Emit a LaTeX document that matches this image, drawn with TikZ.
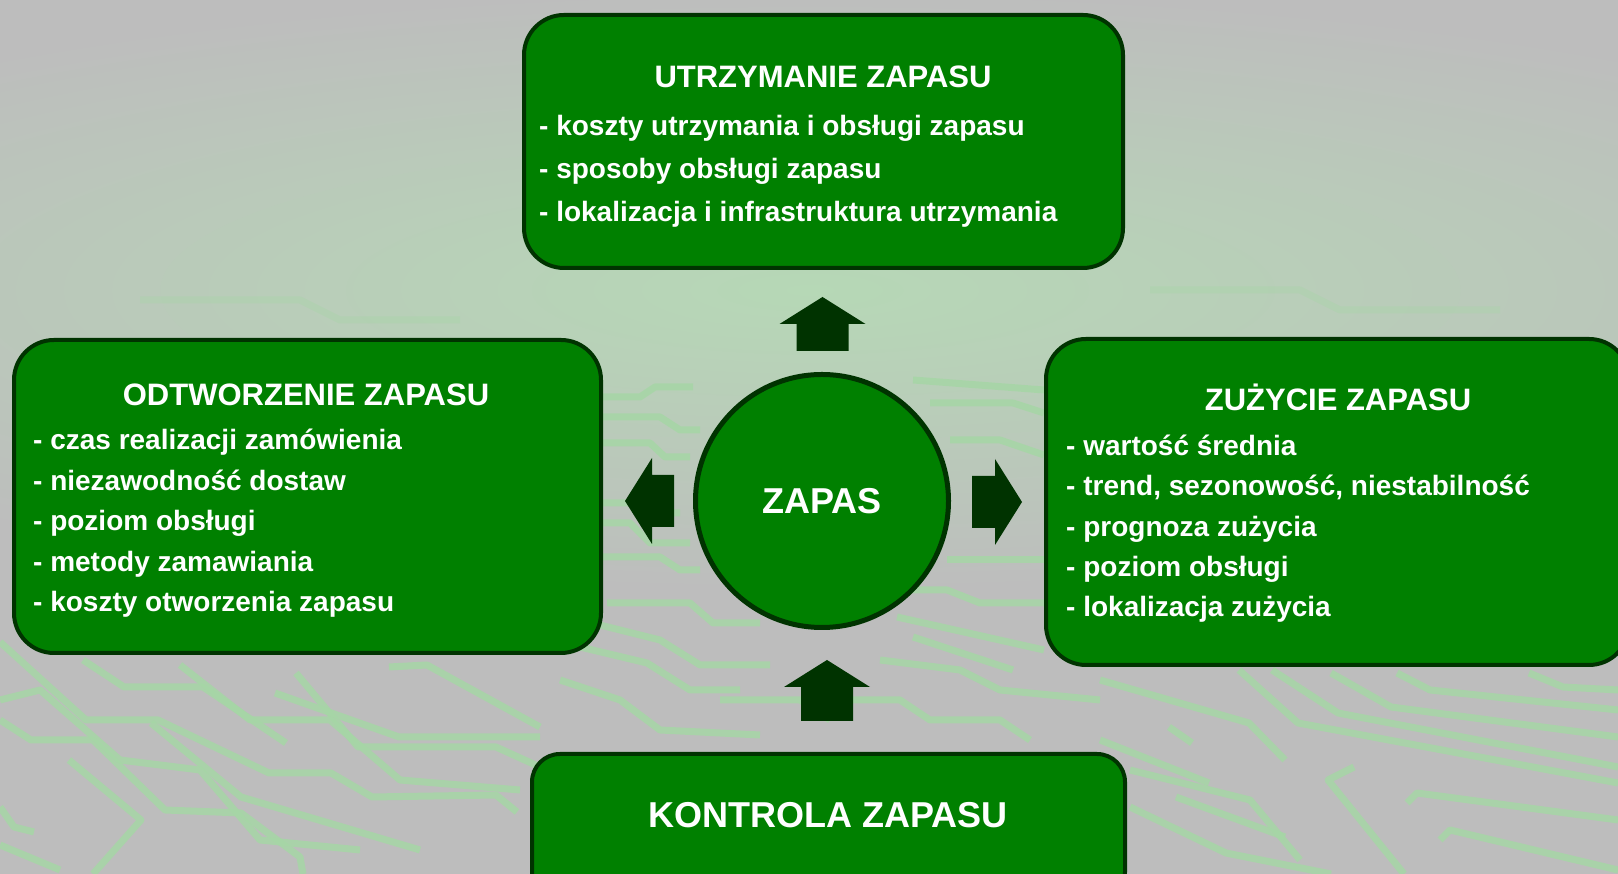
\documentclass[tikz,border=0pt]{standalone}
\usepackage{fontspec}
\setmainfont{Liberation Sans}
\usetikzlibrary{calc}

\definecolor{zielony}{RGB}{0,128,0}
\definecolor{ciemny}{RGB}{0,51,0}
\definecolor{tlo}{RGB}{189,189,189}
\definecolor{poswiata}{RGB}{182,216,182}
\definecolor{sciezka}{RGB}{166,214,166}

\begin{document}
\begin{tikzpicture}[
	x=1pt, y=1pt,
	pole/.style = {shape=rectangle, draw=ciemny, line width=4pt,
		fill=zielony, rounded corners=40pt},
	kolo/.style = {shape=circle, draw=ciemny, line width=5pt, fill=zielony,
		text=white, font=\fontsize{36}{43}\selectfont\bfseries},
	tytul/.style = {text=white, inner sep=0pt, anchor=base,
		font=\fontsize{31}{37}\selectfont\bfseries},
	punkt/.style = {text=white, inner sep=0pt, anchor=base west,
		font=\fontsize{28}{34}\selectfont\bfseries},
	trasa/.style = {draw=sciezka, line width=7pt, line join=round, opacity=0.85},
	pics/blok/.style = {code={
		\fill[ciemny] (0,-26) -- (#1-27,-26) -- (#1-27,-43) -- (#1,0)
			-- (#1-27,43) -- (#1-27,26) -- (0,26) -- cycle;}}]

	\useasboundingbox (0,0) rectangle (1618,874);
	\fill[tlo] (0,0) rectangle (1618,874);

	% tlo: poswiata i sciezki plytki
	\begin{scope}
		\clip (0,0) rectangle (1618,874);
		\shade[inner color=poswiata, outer color=tlo] (810,584) ellipse (1300 and 300);
		\begin{scope}[yshift=874pt, yscale=-1]
			\draw[trasa] (0,642) -- (86,720) -- (158,720) -- (269,773) -- (331,773) -- (372,797) -- (496,795) -- (517,812);
			\draw[trasa] (83,660) -- (124,687) -- (203,687) -- (286,743);
			\draw[trasa] (0,720) -- (31,740) -- (93,740) -- (165,810) -- (241,813) -- (300,857) -- (303,874);
			\draw[trasa] (296,673) -- (358,747) -- (496,747) -- (540,767);
			\draw[trasa] (275,693) -- (399,737) -- (540,737);
			\draw[trasa] (69,760) -- (141,820) -- (93,874);
			\draw[trasa] (389,667) -- (427,665) -- (540,727);
			\draw[trasa] (151,723) -- (241,797) -- (420,850);
			\draw[trasa] (0,807) -- (14,827) -- (34,832);
			\draw[trasa] (0,700) -- (40,690) -- (120,760) -- (200,770) -- (260,840) -- (360,850);
			\draw[trasa] (180,665) -- (250,720) -- (330,720) -- (400,780) -- (520,790);
			\draw[trasa] (0,845) -- (60,870);
			\draw[trasa] (1100,680) -- (1249,723) -- (1285,760);
			\draw[trasa] (1239,670) -- (1298,723) -- (1618,783);
			\draw[trasa] (1272,670) -- (1338,713) -- (1618,767);
			\draw[trasa] (1331,673) -- (1391,707) -- (1618,737);
			\draw[trasa] (1397,673) -- (1430,690) -- (1618,710);
			\draw[trasa] (1529,673) -- (1563,687) -- (1618,690);
			\draw[trasa] (1354,767) -- (1328,780) -- (1404,874);
			\draw[trasa] (1407,803) -- (1417,793) -- (1618,820);
			\draw[trasa] (1440,840) -- (1450,830) -- (1618,870);
			\draw[trasa] (1176,797) -- (1285,837);
			\draw[trasa] (1130,807) -- (1226,853) -- (1331,874);
			\draw[trasa] (1100,740) -- (1209,783);
			\draw[trasa] (1169,727) -- (1192,743);
			\draw[trasa] (1130,770) -- (1250,800) -- (1300,860);
			\draw[trasa] (603,397) -- (640,397) -- (655,387) -- (693,387);
			\draw[trasa] (603,417) -- (660,417) -- (680,430) -- (700,430);
			\draw[trasa] (603,443) -- (650,443) -- (665,457) -- (690,457);
			\draw[trasa] (603,503) -- (640,503) -- (655,513) -- (680,513);
			\draw[trasa] (603,523) -- (630,523) -- (650,543) -- (690,543);
			\draw[trasa] (603,557) -- (660,557) -- (680,570) -- (700,570);
			\draw[trasa] (607,603) -- (690,603) -- (713,623) -- (760,623);
			\draw[trasa] (600,625) -- (660,640) -- (700,665) -- (770,665);
			\draw[trasa] (580,647) -- (647,663) -- (690,690) -- (740,690);
			\draw[trasa] (560,680) -- (620,700) -- (660,730) -- (760,735);
			\draw[trasa] (720,700) -- (800,700) -- (830,720);
			\draw[trasa] (850,700) -- (900,700) -- (930,720) -- (1000,720) -- (1030,740);
			\draw[trasa] (880,660) -- (960,670) -- (1000,690) -- (1100,700);
			\draw[trasa] (880,590) -- (947,590) -- (980,603) -- (1044,603);
			\draw[trasa] (897,617) -- (1044,650);
			\draw[trasa] (913,637) -- (1013,670);
			\draw[trasa] (947,560) -- (1044,560);
			\draw[trasa] (930,403) -- (1013,403) -- (1044,413);
			\draw[trasa] (913,380) -- (1044,390);
			\draw[trasa] (950,440) -- (1000,440) -- (1044,455);
			\draw[trasa, opacity=0.35] (140,300) -- (300,300) -- (340,320) -- (460,320);
			\draw[trasa, opacity=0.35] (1150,290) -- (1300,290) -- (1340,310) -- (1500,310);
		\end{scope}
	\end{scope}

	% pola
	\node[pole, minimum width=599pt, minimum height=253pt] (utrzymanie) at (823.5,732.5) {};
	\node[pole, minimum width=587pt, minimum height=313pt] (odtworzenie) at (307.5,377.5) {};
	\node[pole, minimum width=583pt, minimum height=326pt] (zuzycie) at (1337.5,372) {};
	\node[pole, rounded corners=28pt, minimum width=593pt, minimum height=146pt] (kontrola) at (828.5,47) {};
	\node[kolo, minimum size=253pt, inner sep=0pt] (zapas) at (822,373) {ZAPAS};

	% strzalki
	\pic[rotate=90] at ($(zapas.north)+(0.5,21)$) {blok=54};
	\pic[rotate=180] at ($(zapas.west)+(-19,0)$) {blok=49};
	\pic at ($(zapas.east)+(21,-1)$) {blok=50};
	\pic[rotate=90] at ($(kontrola.north)+(-1.5,31)$) {blok=61};

	% teksty
	\node[tytul] (tutrzymanie) at (823,786) {UTRZYMANIE ZAPASU};
	\node[tytul] (todtworzenie) at (306,468) {ODTWORZENIE ZAPASU};
	\node[tytul] (tzuzycie) at (1338,463) {ZUŻYCIE ZAPASU};
	\node[tytul, font=\fontsize{36}{43}\selectfont\bfseries] (tkontrola) at (828,46) {KONTROLA ZAPASU};

	\foreach \tekst [count=\i] in {- koszty utrzymania i obsługi zapasu,
		- sposoby obsługi zapasu, - lokalizacja i infrastruktura utrzymania}
		\node[punkt] (u\i) at (539,781-43*\i) {\tekst};
	\foreach \tekst [count=\i] in {- czas realizacji zamówienia, - niezawodność dostaw,
		- poziom obsługi, - metody zamawiania, - koszty otworzenia zapasu}
		\node[punkt] (o\i) at (33,464.4-40.4*\i) {\tekst};
	\foreach \tekst [count=\i] in {- wartość średnia, {- trend, sezonowość, niestabilność},
		- prognoza zużycia, - poziom obsługi, - lokalizacja zużycia}
		\node[punkt] (z\i) at (1066,458.5-40.2*\i) {\tekst};
\end{tikzpicture}
\end{document}
